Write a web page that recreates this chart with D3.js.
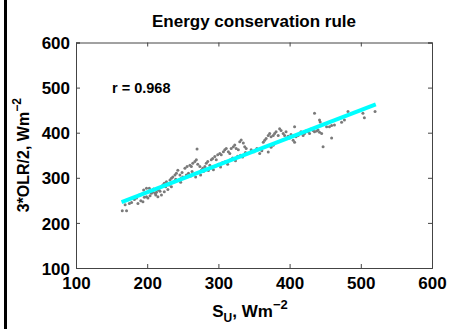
<!DOCTYPE html>
<html>
<head>
<meta charset="utf-8">
<script src="https://cdn.jsdelivr.net/npm/d3@7"></script>
<style>
  body { margin: 0; background: #fff; }
  svg text { font-family: "Liberation Sans", Arial, sans-serif; font-weight: bold; fill: #000; }
</style>
</head>
<body>
<div id="chart"></div>
<script>
// S_U values (W m-2)
var suValues = [
  165,171,169,175,178,187,191,194,196,199,201,195,199,203,206,208,211,213,215,215,220,224,229,234,217,220,222,224,227,229,232,234,236,239,241,243,246,248,250,
  182,185,189,193,204,209,212,218,226,231,238,240,244,247,249,
  253,256,260,262,264,267,269,270,271,274,276,278,281,283,285,288,290,292,295,297,299,302,304,307,309,311,314,316,318,321,323,325,328,330,332,335,337,339,
  252,255,258,261,263,266,268,272,275,279,282,286,289,293,296,300,303,306,310,313,317,320,324,327,331,334,338,
  346,350,354,358,361,363,365,367,370,372,374,377,379,381,384,386,388,391,393,395,407,409,412,414,416,419,421,424,426,428,431,433,370,374,377,405,407,398,400,402,
  435,442,443,435,438,440,442,445,452,456,459,463,473,477,482,503,505,520,459,447
];
// 3*OLR/2 values (W m-2)
var olrValues = [
  227,227,240,243,245,243,249,247,257,258,255,273,277,277,266,269,266,268,273,258,262,269,274,280,277,280,284,288,291,286,295,299,302,306,310,317,306,299,302,
  252,255,262,264,260,275,262,270,280,284,292,297,294,290,312,
  321,325,328,325,332,336,340,364,330,325,317,321,325,332,336,328,340,343,347,340,351,354,351,358,362,365,358,354,365,369,373,365,362,380,384,377,369,365,
  300,306,310,304,314,309,302,312,306,314,320,316,322,318,326,330,324,334,336,330,340,344,338,348,350,346,356,
  362,358,365,354,360,379,383,387,394,398,391,394,398,402,394,409,405,398,394,402,413,391,394,398,402,394,398,405,402,398,409,405,357,368,372,383,379,392,388,396,
  443,428,424,402,404,406,401,398,413,413,416,417,423,428,447,443,433,447,388,369
];
// least-squares line end points
var fitX = [164, 521];
var fitY = [246, 463];
var xTicks = [100, 200, 300, 400, 500, 600];
var yTicks = [100, 200, 300, 400, 500, 600];
var corrText = "r = 0.968";

var W = 449, H = 329;
var margin = {left: 76, right: 17, top: 42.5, bottom: 61};

var svg = d3.select("#chart").append("svg")
  .attr("width", W)
  .attr("height", H);

// black bar down the left edge
svg.append("rect")
  .attr("x", 4).attr("y", 0)
  .attr("width", 3).attr("height", H)
  .attr("fill", "#000");

var x = d3.scaleLinear().domain([100, 600]).range([margin.left, W - margin.right]);
var y = d3.scaleLinear().domain([100, 600]).range([H - margin.bottom, margin.top]);

// axes with ticks pointing inward, mirrored on top and right
var tickLen = 4;
svg.append("g")
  .attr("transform", "translate(0," + y(100) + ")")
  .call(d3.axisBottom(x).tickValues(xTicks).tickSize(-tickLen).tickPadding(9))
  .call(function (g) { g.selectAll("text").attr("font-size", 17).style("font-family", null); });
svg.append("g")
  .attr("transform", "translate(0," + y(600) + ")")
  .call(d3.axisTop(x).tickValues(xTicks).tickSize(-tickLen).tickFormat(""));
svg.append("g")
  .attr("transform", "translate(" + x(100) + ",0)")
  .call(d3.axisLeft(y).tickValues(yTicks).tickSize(-tickLen).tickPadding(6))
  .call(function (g) { g.selectAll("text").attr("font-size", 17).attr("dy", "0.36em").style("font-family", null); });
svg.append("g")
  .attr("transform", "translate(" + x(600) + ",0)")
  .call(d3.axisRight(y).tickValues(yTicks).tickSize(-tickLen).tickFormat(""));

svg.selectAll(".domain, .tick line").attr("stroke", "#444").attr("stroke-width", 1);
svg.selectAll(".tick text").attr("fill", "#000");

// scatter
var pts = suValues.map(function (v, i) { return {su: v, olr: olrValues[i]}; });
svg.append("g").selectAll("circle")
  .data(pts)
  .enter()
  .append("circle")
  .attr("cx", function (d) { return x(d.su); })
  .attr("cy", function (d) { return y(d.olr); })
  .attr("r", 1.5)
  .attr("fill", "#7a7a7a");

// fit line
svg.append("line")
  .attr("x1", x(fitX[0])).attr("y1", y(fitY[0]))
  .attr("x2", x(fitX[1])).attr("y2", y(fitY[1]))
  .attr("stroke", "#00ffff")
  .attr("stroke-width", 4);

// title
svg.append("text")
  .attr("x", (x(100) + x(600)) / 2)
  .attr("y", 27)
  .attr("text-anchor", "middle")
  .attr("font-size", 17)
  .text("Energy conservation rule");

svg.append("text")
  .attr("x", 112)
  .attr("y", 93)
  .attr("font-size", 14.5)
  .text(corrText);

// x label: S_U, Wm^-2
var xl = svg.append("text")
  .attr("x", (x(100) + x(600)) / 2 - 4)
  .attr("y", 317)
  .attr("text-anchor", "middle")
  .attr("font-size", 17);
xl.append("tspan").text("S");
xl.append("tspan").attr("font-size", 12).attr("dy", 5).text("U");
xl.append("tspan").attr("dy", -5).text(", Wm");
xl.append("tspan").attr("font-size", 13).attr("dy", -8).text("\u22122");

// y label: 3*OLR/2, Wm^-2
var yl = svg.append("text")
  .attr("transform", "translate(29," + ((y(100) + y(600)) / 2) + ") rotate(-90)")
  .attr("text-anchor", "middle")
  .attr("font-size", 16);
yl.append("tspan").text("3*OLR/2, Wm");
yl.append("tspan").attr("font-size", 12).attr("dy", -8).text("\u22122");
</script>
</body>
</html>
